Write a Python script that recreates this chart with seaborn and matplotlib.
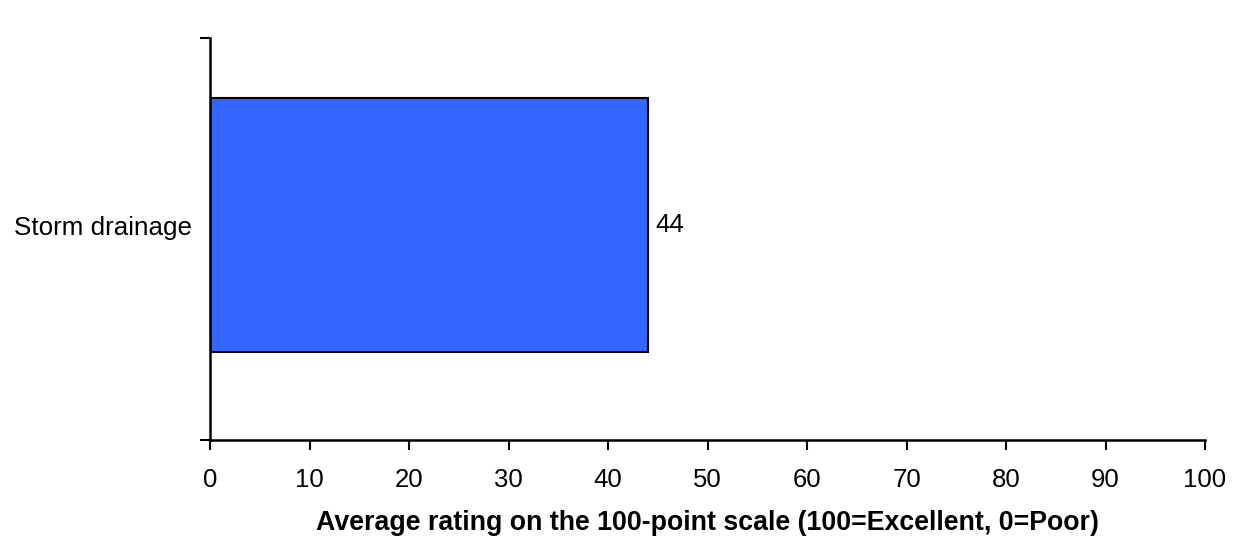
import pandas as pd
import seaborn as sns
import matplotlib.pyplot as plt

categories = ["Storm drainage"]
ratings = [44]
x_ticks = list(range(0, 101, 10))

df = pd.DataFrame({"category": categories, "rating": ratings})

sns.set_style("white")
plt.rcParams["font.family"] = ["Liberation Sans", "DejaVu Sans"]
plt.rcParams["text.color"] = "black"
plt.rcParams["axes.labelcolor"] = "black"
plt.rcParams["xtick.color"] = "black"
plt.rcParams["ytick.color"] = "black"

fig = plt.figure(figsize=(12.39, 5.40), dpi=100)
ax = fig.add_axes([0.1695, 0.1852, 0.8031, 0.7444])

sns.barplot(data=df, x="rating", y="category", orient="h", color="#3366FF",
            saturation=1, width=1, edgecolor="black", linewidth=1.5, ax=ax)

for i, v in enumerate(ratings):
    ax.text(v + 0.8, i, str(v), va="center", ha="left", fontsize=18.5)

ax.set_xlim(0, 100)
ax.set_ylim(0.846, -0.736)
ax.set_xticks(x_ticks)
ax.tick_params(axis="x", direction="out", length=7, width=1.5, labelsize=18.5,
               pad=13, bottom=True)
ax.tick_params(axis="y", which="major", length=0, labelsize=18.7, pad=13)
ax.set_yticks([0.846, -0.736], minor=True)
ax.tick_params(axis="y", which="minor", direction="out", length=7, width=1.5,
               left=True)

for side in ["top", "right"]:
    ax.spines[side].set_visible(False)
for side in ["left", "bottom"]:
    ax.spines[side].set_color("black")
    ax.spines[side].set_linewidth(1.8)

ax.set_ylabel("")
ax.set_xlabel("Average rating on the 100-point scale (100=Excellent, 0=Poor)",
              fontsize=19.3, fontweight="bold", labelpad=13)

fig.savefig("out.png", dpi=100)
